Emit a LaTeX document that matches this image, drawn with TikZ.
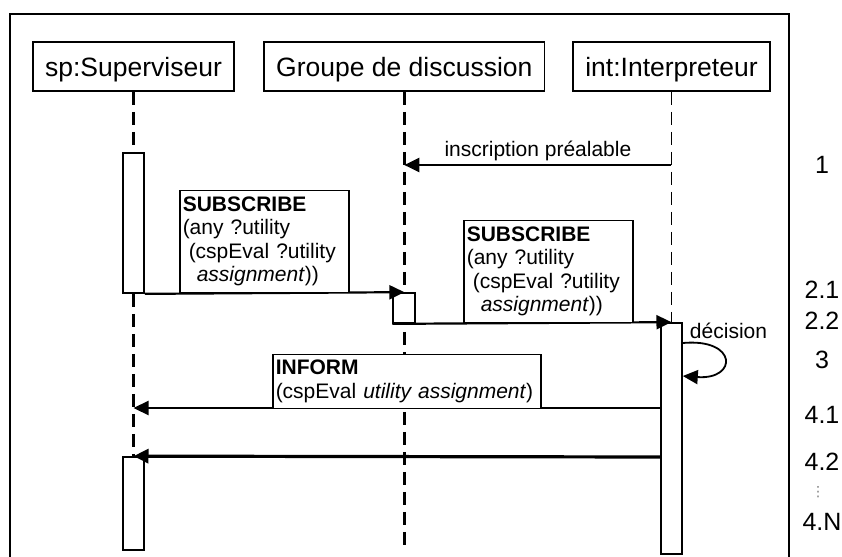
\documentclass[tikz,border=0pt]{standalone}
\usepackage{fontspec}
\setmainfont{Liberation Sans}
\newfontfamily\symfont{DejaVu Sans}
\usetikzlibrary{positioning, arrows.meta, calc}
\newcommand{\hdfont}{\fontsize{26.5}{30}\selectfont}
\newcommand{\msgfont}{\fontsize{21}{23.5}\selectfont}
\newcommand{\numfont}{\fontsize{25}{28}\selectfont}

\begin{document}
\begin{tikzpicture}[
    x=1pt, y=-1pt,
    node distance=28.5pt,
    head/.style={
      rectangle, draw, line width=1.8pt,
      font=\hdfont, inner xsep=12pt,
      minimum height=49pt, text height=20pt, text depth=0pt
    },
    act/.style={
      rectangle, draw, line width=1.7pt, fill=white,
      minimum width=21pt, inner sep=0pt
    },
    msgbox/.style={
      rectangle, draw, line width=1.5pt, fill=white,
      align=left, font=\msgfont, inner xsep=3pt, inner ysep=2pt,
      anchor=south west
    },
    lifeline/.style={line width=2.3pt, dash pattern=on 13pt off 7pt},
    msg/.style={-{Triangle[length=15pt,width=14pt]}, line width=2.2pt},
    lbl/.style={font=\msgfont, inner sep=3pt},
    numlbl/.style={font=\numfont, inner sep=0pt}
  ]
  \useasboundingbox (0,0) rectangle (842,556);
  % Cadre
  \draw[line width=2.2pt] (10,560) |- (789,14) -- (789,560);
  % Objets
  \node[head] at (133.5,66.5) (sp) {sp:Superviseur};
  \node[head, right=of sp] (grp) {Groupe de discussion};
  \node[head, right=27pt of grp] (int) {int:Interpreteur};
  % Activations
  \node[act, minimum height=140pt] (actS1) at (sp.south |- 0,223) {};
  \node[act, minimum height=93pt] (actS2) at (sp.south |- 0,503.5) {};
  \node[act, minimum height=231pt] (actI) at (int.south |- 0,438.5) {};
  \coordinate (grpEnd) at (grp.south |- 0,550);
  % Lignes de vie
  \draw[lifeline] (sp.south) -- (actS1.north);
  \draw[lifeline] (actS1.south) -- (actS2.north);
  \draw[lifeline, line width=2.8pt] (grp.south) -- (grpEnd);
  \draw[lifeline, line width=1.8pt] (int.south) -- (actI.north);
  \node[act, minimum width=22pt, minimum height=30pt] (actG) at (grp.south |- 0,308) {};
  % 1: inscription
  \coordinate (insI) at (int.south |- 0,165);
  \coordinate (insG) at (grp.south |- 0,165);
  \draw[msg] (insI) -- node[above, lbl]{inscription préalable} (insG);
  % 2.1 / 2.2: SUBSCRIBE
  \draw[msg] (actS1.south east) -- (actG.north);
  \draw[msg] (actG.south west) -- (actI.north);
  \node[msgbox, text width=163pt, minimum height=102pt] (subA) at (179,293)
    {\textbf{SUBSCRIBE}\\(any ?utility\\\hspace*{6pt}(cspEval ?utility\\\hspace*{14pt}\textit{assignment}))};
  \node[msgbox, text width=163pt, minimum height=102pt] (subB) at (463,323)
    {\textbf{SUBSCRIBE}\\(any ?utility\\\hspace*{6pt}(cspEval ?utility\\\hspace*{14pt}\textit{assignment}))};
  % 3: decision
  \coordinate (lpA) at (actI.east |- 0,343);
  \coordinate (lpB) at (actI.east |- 0,376);
  \draw[msg, line width=1.8pt] (lpA) .. controls +(55,-5) and +(55,4) .. (lpB);
  \node[lbl, anchor=base] (dec) at (728.5,338) {décision};
  % 4.1 / 4.2: INFORM
  \coordinate (infS) at (sp.south |- 0,408);
  \coordinate (infI) at (actI.west |- infS);
  \draw[msg] (infI) -- (infS);
  \node[msgbox, text width=262pt, minimum height=54pt] (inf) at (272,409)
    {\textbf{INFORM}\\(cspEval \textit{utility assignment})};
  \coordinate (repI) at (actI.west |- 0,457);
  \draw[msg, line width=3.2pt] (repI) -- (actS2.north);
  % Numeros des etapes
  \node[numlbl] (n1)  at (822,165) {1};
  \node[numlbl] (n21) at (822,290) {2.1};
  \node[numlbl] (n22) at (822,321) {2.2};
  \node[numlbl] (n3)  at (822,360) {3};
  \node[numlbl] (n41) at (822,415) {4.1};
  \node[numlbl] (n42) at (822,462) {4.2};
  \node[numlbl, text=black!50, font=\symfont\fontsize{14}{14}\selectfont] (ndots) at (818,492) {⋮};
  \node[numlbl] (n4N) at (822,522) {4.N};
\end{tikzpicture}
\end{document}
